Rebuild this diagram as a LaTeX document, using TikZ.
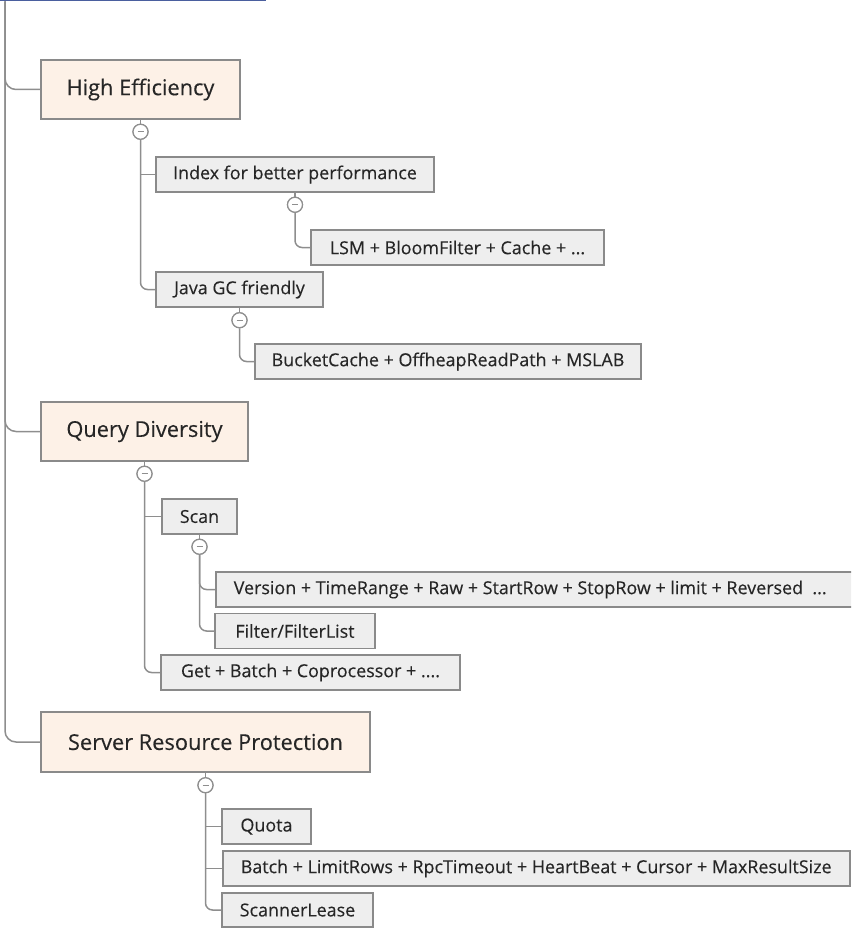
\documentclass[tikz,border=0pt]{standalone}
\usepackage{fontspec}
\setmainfont{Open Sans}[FakeBold=0.25]
\usetikzlibrary{calc}
\definecolor{linegray}{HTML}{8E8E8E}
\definecolor{boxgray}{HTML}{8A8A8A}
\definecolor{leaffill}{HTML}{EEEEEE}
\definecolor{mainfill}{HTML}{FDF1E7}
\definecolor{textdark}{HTML}{262626}
\definecolor{rootblue}{HTML}{4A5F9E}
\tikzset{
  conn/.style={draw=linegray, line width=1.5pt},
  mainbox/.style={draw=boxgray, fill=mainfill, line width=1.5pt, inner sep=0pt,
    minimum height=59pt, text=textdark, font=\fontsize{21.8}{26}\selectfont},
  leafbox/.style={draw=boxgray, fill=leaffill, line width=1.5pt, inner sep=0pt,
    minimum height=35pt, text=textdark, font=\fontsize{17.9}{21}\selectfont},
  wideleaf/.style={leafbox, inner xsep=18pt, anchor=west},
  toggle/.style={circle, draw=linegray, fill=white, line width=1.2pt, minimum size=15pt,
    inner sep=0pt, path picture={\draw[linegray, line width=1pt]
      ($(path picture bounding box.center)+(-3pt,0)$) -- ($(path picture bounding box.center)+(3pt,0)$);}},
}
\begin{document}
\begin{tikzpicture}[x=1pt, y={(0pt,-1pt)}]
\useasboundingbox (0,0) rectangle (851,928);
\begin{scope}
\clip (0,0) rectangle (851,928);

% root topic, mostly above the visible area
\node[draw=rootblue, fill=white, line width=1.6pt, inner sep=0pt, minimum width=280pt,
  minimum height=30pt, anchor=south east] (root) at (266,1) {};
\coordinate (rt) at (5,1.5);

% first level topics
\node[mainbox, minimum width=199pt] (he) at (140.5,89.5) {High Efficiency};
\node[mainbox, minimum width=207pt] (qd) at (144.5,431.5) {Query Diversity};
\node[mainbox, minimum width=329pt, minimum height=60pt] (srp) at (205.5,742) {Server Resource Protection};

% High Efficiency branch
\node[leafbox, minimum width=278pt] (idx) at (295,174.5) {Index for better performance};
\node[leafbox, minimum width=293pt] (lsm) at (457.5,247.5) {LSM + BloomFilter + Cache + ...};
\node[leafbox, minimum width=167pt] (java) at (239.5,289.5) {Java GC friendly};
\node[leafbox, minimum width=386pt] (bucket) at (448,361.5) {BucketCache + OffheapReadPath + MSLAB};

% Query Diversity branch
\node[leafbox, minimum width=75pt] (scan) at (199.5,516.5) {Scan};
\node[wideleaf] (version) at (215,589.5)
  {\makebox[610pt][l]{Version + TimeRange + Raw + StartRow + StopRow + limit + Reversed\ \ ...}};
\node[leafbox, minimum width=160pt] (filter) at (295,631) {Filter/FilterList};
\node[leafbox, minimum width=299pt] (get) at (310.5,672.5) {Get + Batch + Coprocessor + ....};

% Server Resource Protection branch
\node[leafbox, minimum width=89pt] (quota) at (266.5,826.5) {Quota};
\node[wideleaf] (batch) at (222,868.5)
  {\makebox[591pt][l]{Batch + LimitRows + RpcTimeout + HeartBeat + Cursor + MaxResultSize}};
\node[leafbox, minimum width=151pt, minimum height=34pt] (lease) at (297.5,910) {ScannerLease};

% collapse toggles under each parent
\node[toggle] (he-t) at ($(he.south)+(0,12)$) {};
\node[toggle] (idx-t) at ($(idx.south)+(0,12)$) {};
\node[toggle] (java-t) at ($(java.south)+(0,12.5)$) {};
\node[toggle] (qd-t) at ($(qd.south)+(0,12)$) {};
\node[toggle] (scan-t) at ($(scan.south)+(0,12)$) {};
\node[toggle] (srp-t) at ($(srp.south)+(0,12.5)$) {};

% main trunk
\draw[conn, rounded corners=11pt] (rt) |- (he.west);
\draw[conn, rounded corners=11pt] (rt) |- (qd.west);
\draw[conn, rounded corners=11pt] (rt) |- (srp.west);

% parent to toggle
\foreach \p in {he,idx,java,qd,scan,srp}
  \draw[conn] (\p.south) -- (\p-t.north);

% second level links
\draw[conn] (he-t.south) |- (idx.west);
\draw[conn, rounded corners=7pt] (he-t.south) |- (java.west);
\draw[conn, rounded corners=7pt] (idx-t.south) |- (lsm.west);
\draw[conn, rounded corners=7pt] (java-t.south) |- (bucket.west);

\draw[conn] (qd-t.south) |- (scan.west);
\draw[conn, rounded corners=7pt] (qd-t.south) |- (get.west);
\draw[conn, rounded corners=7pt] (scan-t.south) |- (version.west);
\draw[conn, rounded corners=7pt] (scan-t.south) |- (filter.west);

\draw[conn] (srp-t.south) |- (quota.west);
\draw[conn] (srp-t.south) |- (batch.west);
\draw[conn, rounded corners=7pt] (srp-t.south) |- (lease.west);

% redraw toggles above the links
\foreach \p in {he,idx,java,qd,scan,srp}
  \node[toggle] at (\p-t) {};
\end{scope}
\end{tikzpicture}
\end{document}
